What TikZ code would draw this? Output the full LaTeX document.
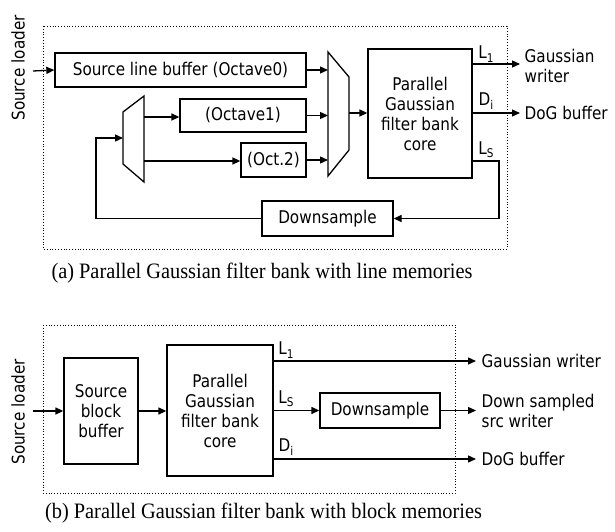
\documentclass[tikz,border=0pt]{standalone}
\usepackage{fontspec}
\setmainfont{Liberation Serif}
\newfontfamily\capfont[FakeStretch=0.925]{Liberation Serif}
\newfontfamily\dvs[FakeStretch=0.87]{DejaVu Sans}
\usetikzlibrary{arrows.meta,calc}
\newcommand\subx[1]{\raisebox{-0.35ex}{\fontsize{12}{12}\selectfont #1}}
\begin{document}
\begin{tikzpicture}[x=1pt,y=-1pt,
  line width=1.3pt,
  >={Triangle[length=8pt,width=7pt]},
  blk/.style={draw,inner sep=0pt,font=\dvs\fontsize{17.5}{20}\selectfont,align=center},
  lbl/.style={font=\dvs\fontsize{17.5}{20}\selectfont,inner sep=0pt,align=left},
  sublbl/.style={font=\dvs\fontsize{17.5}{20}\selectfont,inner sep=0pt},
  framebox/.style={dotted,line width=0.8pt},
  captxt/.style={font=\capfont\fontsize{22}{24}\selectfont,inner sep=0pt}]
\useasboundingbox (0,0) rectangle (615,532);

% ---------- (a) ----------
\draw[framebox] (43,26) rectangle (507,249);
\node[lbl,rotate=90] (srcA) at (18,68) {Source loader};
\coordinate (inA) at (33,71);
\node[blk,minimum width=251pt,minimum height=34pt] (slb) at (180.5,70) {Source line buffer (Octave0)};
\node[blk,minimum width=126pt,minimum height=33pt] (oct1) at (243,115.5) {(Octave1)};
\node[blk,minimum width=65pt,minimum height=34pt] (oct2) at (273.5,160) {(Oct.2)};
\node[blk,minimum width=131pt,minimum height=35pt] (dsA) at (327.5,218.5) {Downsample};
\node[blk,minimum width=104pt,minimum height=129pt] (coreA) at (420,113.5) {Parallel\\Gaussian\\filter bank\\core};
% demux and mux
\coordinate (dmL) at (123,138);
\coordinate (dmR) at (144,117);
\draw (123,112) -- (144,96) -- (144,182) -- (123,164) -- cycle;
\coordinate (muxL) at (328,113);
\coordinate (muxR) at (349,113);
\draw (328,52) -- (349,77) -- (349,150) -- (328,176) -- cycle;
\coordinate (fb) at (96,138);
\coordinate (lsA) at (499,161);
\coordinate (endA) at (520,0);

\draw[->] (inA) -- (slb.west);
\draw[->] (slb.east) -- (slb.east -| muxL);
\draw[->] (oct1.east) -- (oct1.east -| muxL);
\draw[->] (oct2.east) -- (oct2.east -| muxL);
\draw[->] (muxR) -- (coreA.west |- muxR);
\draw[->] (dmR) -- (oct1.west |- dmR);
\draw[->] (dmR |- 0,161) -- (oct2.west |- 0,161);
\draw[->] (dsA.west) -| (fb) -- (dmL);
\draw[->] (coreA.east |- 0,64) -- (endA |- 0,64);
\draw[->] (coreA.east |- 0,113) -- (endA |- 0,113);
\draw[->] (coreA.east |- lsA) -- (lsA) |- (dsA.east);
\node[sublbl] (l1A) at (486,54) {L\subx{1}};
\node[sublbl] (diA) at (486,101) {D\subx{i}};
\node[sublbl] (lsAl) at (486,150) {L\subx{S}};
\node[lbl,anchor=west] (gwA) at (524,66) {Gaussian\\writer};
\node[lbl,anchor=west] (dogA) at (524,113) {DoG buffer};
\node[captxt] (capA) at (262,273) {(a) Parallel Gaussian filter bank with line memories};

% ---------- (b) ----------
\draw[framebox] (43,325) rectangle (455,493);
\node[lbl,rotate=90] (srcB) at (18,412) {Source loader};
\coordinate (inB) at (33,411);
\node[blk,minimum width=74pt,minimum height=106pt] (sbb) at (101,411) {Source\\block\\buffer};
\node[blk,minimum width=106pt,minimum height=131pt] (coreB) at (220,410.5) {Parallel\\Gaussian\\filter bank\\core};
\node[blk,minimum width=120pt,minimum height=35pt] (dsB) at (380,410.5) {Downsample};
\coordinate (endB) at (476,0);
\draw[->] (inB) -- (sbb.west);
\draw[->] (sbb.east) -- (coreB.west |- sbb.east);
\draw[->] (coreB.east |- 0,361) -- (endB |- 0,361);
\draw[->] (coreB.east |- dsB.west) -- (dsB.west);
\draw[->] (dsB.east) -- (endB |- dsB.east);
\draw[->] (coreB.east |- 0,459) -- (endB |- 0,459);
\node[sublbl] (l1B) at (286,350) {L\subx{1}};
\node[sublbl] (lsB) at (286,399) {L\subx{S}};
\node[sublbl] (diB) at (286,447) {D\subx{i}};
\node[lbl,anchor=west] (gwB) at (481,361) {Gaussian writer};
\node[lbl,anchor=west] (dsw) at (481,411) {Down sampled\\src writer};
\node[lbl,anchor=west] (dogB) at (481,459) {DoG buffer};
\node[captxt] (capB) at (263.5,513) {(b) Parallel Gaussian filter bank with block memories};
\end{tikzpicture}
\end{document}
